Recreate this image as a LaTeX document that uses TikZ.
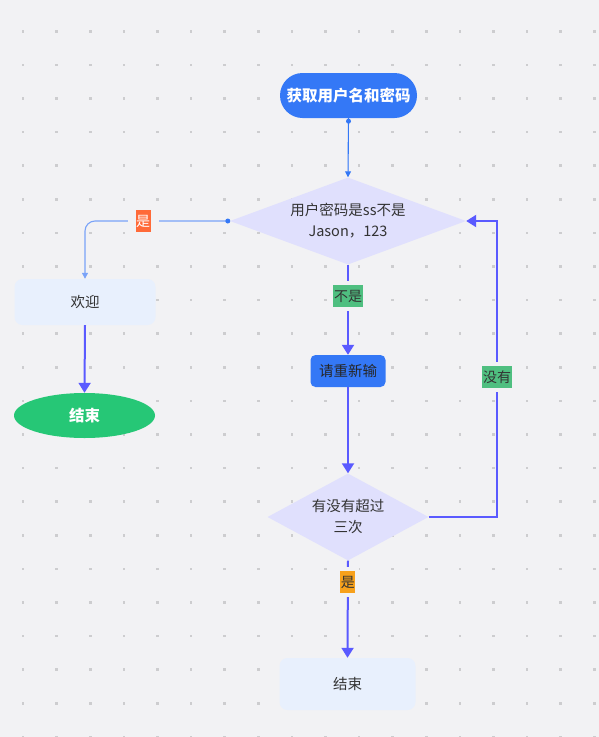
\documentclass[tikz,border=0pt]{standalone}
\usepackage{fontspec}
\setmainfont{Noto Sans CJK SC}
\usetikzlibrary{shapes.geometric,arrows.meta}
\definecolor{bg}{HTML}{F2F2F4}
\definecolor{dotc}{HTML}{CDCDCF}
\definecolor{mainblue}{HTML}{3478F6}
\definecolor{softblue}{HTML}{7AA3F8}
\definecolor{violet}{HTML}{5A5AFF}
\definecolor{diafill}{HTML}{E0E0FD}
\definecolor{lightfill}{HTML}{E8F0FD}
\definecolor{okgreen}{HTML}{26C776}
\definecolor{labgreen}{HTML}{4FBF80}
\definecolor{labred}{HTML}{FF6A38}
\definecolor{laborange}{HTML}{F7A11C}
\definecolor{txt}{HTML}{333333}
\tikzset{
  base/.style={font=\fontsize{14.5}{21}\selectfont, text=txt, align=center, inner sep=0pt},
  pill/.style={base, rectangle, rounded corners=22.5pt, fill=mainblue, text=white, font=\fontsize{15.5}{21}\selectfont\bfseries},
  dia/.style={base, diamond, fill=diafill},
  lightbox/.style={base, rectangle, rounded corners=8pt, fill=lightfill},
  bluebox/.style={base, rectangle, rounded corners=5pt, fill=mainblue, text=black!85},
  oval/.style={base, ellipse, fill=okgreen, text=white, font=\fontsize{15.5}{21}\selectfont\bfseries},
  lab/.style={font=\fontsize{14}{16}\selectfont, text=txt, inner sep=0pt, minimum height=22pt,
    preaction={fill=bg, draw=bg, line width=8pt}},
  thinline/.style={line width=1.1pt, -{Triangle[width=6pt,length=6pt]}},
  thickline/.style={line width=2pt, draw=violet, -{Triangle[width=12pt,length=10pt]}},
}
\begin{document}
\begin{tikzpicture}[x=1pt,y=-1pt]
\fill[bg] (0,0) rectangle (599,737);
\useasboundingbox (0,0) rectangle (599,737);
\foreach \i in {0,...,17} \foreach \j in {0,...,21}
  \fill[dotc] ({23+33.6*\i-1.3},{31.3+33.6*\j-1.3}) rectangle ++(2.6,2.6);

\node[pill, minimum width=137pt, minimum height=45pt] (start) at (348.5,95.5) {获取用户名和密码};
\node[dia, minimum width=236pt, minimum height=87pt, aspect=2.7] (d1) at (348,221) {用户密码是ss不是\\Jason，123};
\node[lightbox, minimum width=141pt, minimum height=46pt] (ok) at (85,302) {欢迎};
\node[oval, minimum width=141pt, minimum height=45pt] (end1) at (84.5,415.5) {结束};
\node[bluebox, minimum width=75pt, minimum height=32pt] (redo) at (348,371) {请重新输};
\node[dia, minimum width=161pt, minimum height=87pt, aspect=1.85] (d2) at (348,517) {有没有超过\\三次};
\node[lightbox, minimum width=136pt, minimum height=52pt] (end2) at (347.5,684) {结束};
\coordinate (loop) at (497,517);

% connectors
\draw[thinline, draw=mainblue, fill=mainblue] (start.south) -- (d1.north);
\fill[mainblue] ([yshift=-3pt]start.south) circle (2.5);

\draw[thinline, draw=softblue, rounded corners=10pt] (d1.west) -| (ok.north);
\fill[mainblue] ([xshift=-2pt]d1.west) circle (2.5);
\node[lab, fill=labred, text=white, minimum width=15pt, preaction={fill=bg, draw=bg, line width=16pt}] (l1) at (143,221) {是};

\draw[thickline] (ok.south) -- (end1.north);
\draw[thickline] (d1.south) -- node[lab, fill=labgreen, minimum width=29.5pt, pos=0.35] (l2) {不是} (redo.north);
\draw[thickline] (redo.south) -- (d2.north);
\draw[thickline] (d2.east) -- (loop) |- node[lab, fill=labgreen, minimum width=29.5pt, pos=0.236] (l3) {没有} (d1.east);
\draw[thickline] (d2.south) -- node[lab, fill=laborange, minimum width=15pt, pos=0.22] (l4) {是} (end2.north);
\end{tikzpicture}
\end{document}
